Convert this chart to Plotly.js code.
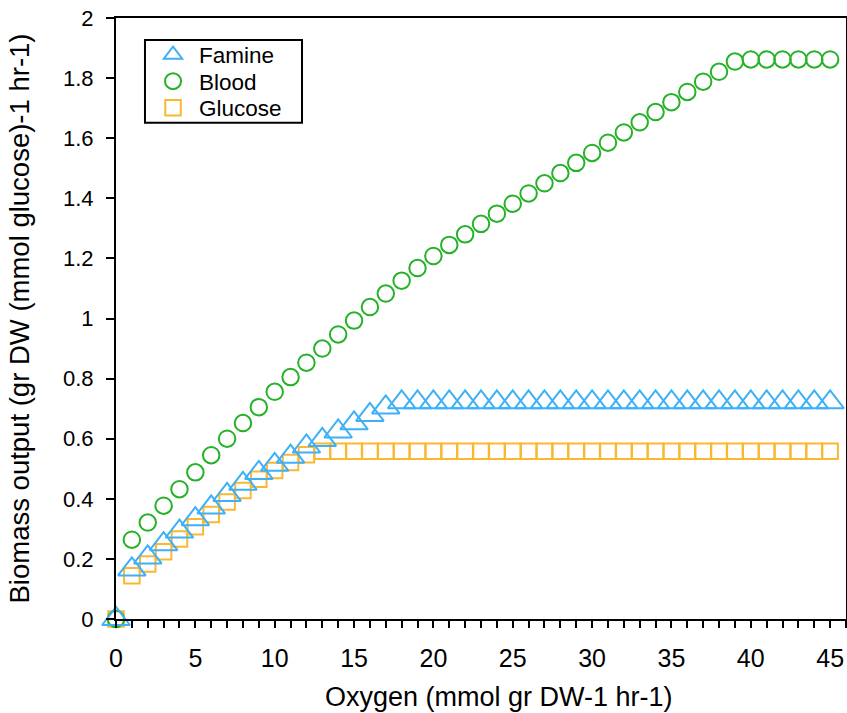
<!DOCTYPE html>
<html>
<head>
<meta charset="utf-8">
<script src="https://cdn.plot.ly/plotly-3.0.1.min.js"></script>
<style>
  html, body { margin: 0; padding: 0; background: #ffffff; }
  #chart { width: 847px; height: 713px; }
</style>
</head>
<body>
<div id="chart"></div>
<script>
// Oxygen uptake (mmol gr DW-1 hr-1)
const oxygen = [0, 1, 2, 3, 4, 5, 6, 7, 8, 9, 10, 11, 12, 13, 14, 15, 16, 17, 18, 19,
  20, 21, 22, 23, 24, 25, 26, 27, 28, 29, 30, 31, 32, 33, 34, 35, 36, 37, 38, 39,
  40, 41, 42, 43, 44, 45];

// Biomass output per condition
const famine = [0, 0.165, 0.205, 0.249, 0.291, 0.332, 0.371, 0.413, 0.450, 0.486,
  0.513, 0.540, 0.574, 0.596, 0.624, 0.651, 0.679, 0.704, 0.721, 0.721,
  0.721, 0.721, 0.721, 0.721, 0.721, 0.721, 0.721, 0.721, 0.721, 0.721,
  0.721, 0.721, 0.721, 0.721, 0.721, 0.721, 0.721, 0.721, 0.721, 0.721,
  0.721, 0.721, 0.721, 0.721, 0.721, 0.721];

const blood = [0, 0.264, 0.321, 0.377, 0.432, 0.488, 0.545, 0.600, 0.652, 0.705,
  0.756, 0.805, 0.853, 0.900, 0.947, 0.993, 1.038, 1.083, 1.126, 1.168,
  1.208, 1.245, 1.280, 1.315, 1.349, 1.382, 1.416, 1.450, 1.484, 1.518,
  1.551, 1.585, 1.619, 1.653, 1.687, 1.720, 1.754, 1.788, 1.821, 1.855,
  1.862, 1.862, 1.862, 1.862, 1.862, 1.862];

const glucose = [0, 0.144, 0.183, 0.224, 0.266, 0.307, 0.348, 0.389, 0.428, 0.465,
  0.494, 0.521, 0.547, 0.558, 0.558, 0.558, 0.558, 0.558, 0.558, 0.558,
  0.558, 0.558, 0.558, 0.558, 0.558, 0.558, 0.558, 0.558, 0.558, 0.558,
  0.558, 0.558, 0.558, 0.558, 0.558, 0.558, 0.558, 0.558, 0.558, 0.558,
  0.558, 0.558, 0.558, 0.558, 0.558, 0.558];

const seriesNames = ['Famine', 'Blood', 'Glucose'];
const xTitle = 'Oxygen (mmol gr DW-1 hr-1)';
const yTitle = 'Biomass output (gr DW (mmol glucose)-1 hr-1)';

const FONT = 'Liberation Sans, Arial, Helvetica, sans-serif';
const COLORS = { famine: '#3eb0f7', blood: '#25b228', glucose: '#fbb732' };

// Glucose drawn first, Famine last so the triangles sit on top.
// Each series has its own legend row so the rows can sit close together
// inside one framed box (drawn as a shape).
const traces = [
  {
    x: oxygen, y: glucose, name: seriesNames[2], type: 'scatter', mode: 'markers',
    cliponaxis: false, legend: 'legend3',
    marker: { symbol: 'square-open', size: 15.5, color: COLORS.glucose, line: { width: 2, color: COLORS.glucose } }
  },
  {
    x: oxygen, y: blood, name: seriesNames[1], type: 'scatter', mode: 'markers',
    cliponaxis: false, legend: 'legend2',
    marker: { symbol: 'circle-open', size: 16.5, color: COLORS.blood, line: { width: 2, color: COLORS.blood } }
  },
  {
    x: oxygen, y: famine, name: seriesNames[0], type: 'scatter', mode: 'markers',
    cliponaxis: false, legend: 'legend',
    marker: { symbol: 'triangle-up-open', size: 24, color: COLORS.famine, line: { width: 2, color: COLORS.famine } }
  }
];

function legendRow(yPos) {
  return {
    x: 0.0425, y: yPos, xanchor: 'left', yanchor: 'middle',
    bgcolor: 'rgba(0,0,0,0)',
    borderwidth: 0,
    font: { family: FONT, size: 22.5, color: '#000000' },
    itemwidth: 42
  };
}

const layout = {
  width: 847,
  height: 713,
  margin: { l: 116, r: 1, t: 18, b: 94 },
  paper_bgcolor: '#ffffff',
  plot_bgcolor: '#ffffff',
  font: { family: FONT, color: '#000000', size: 20 },
  showlegend: true,
  legend: legendRow(0.9384),
  legend2: legendRow(0.8943),
  legend3: legendRow(0.8502),
  shapes: [
    {
      type: 'rect', xref: 'paper', yref: 'paper',
      x0: 0.0397, x1: 0.2548, y0: 0.8258, y1: 0.9634,
      line: { color: '#000000', width: 2 },
      fillcolor: '#ffffff',
      layer: 'above'
    }
  ],
  // x-axis title, centred slightly right of the plot middle
  annotations: [
    {
      text: xTitle, xref: 'paper', yref: 'paper',
      x: 0.5247, y: 0, xanchor: 'center', yanchor: 'middle',
      yshift: -78, showarrow: false,
      font: { family: FONT, size: 27, color: '#000000' }
    }
  ],
  xaxis: {
    range: [0, 46],
    showgrid: false,
    zeroline: false,
    showline: true,
    linecolor: '#000000',
    linewidth: 2,
    mirror: true,
    ticks: 'outside',
    tickmode: 'linear',
    tick0: 0,
    dtick: 5,
    ticklen: 7,
    tickwidth: 2,
    tickcolor: '#000000',
    ticklabelstandoff: 9,
    minor: { ticks: 'outside', dtick: 1, tick0: 0, ticklen: 7, tickwidth: 2, tickcolor: '#000000', showgrid: false },
    tickfont: { family: FONT, size: 25, color: '#000000' }
  },
  yaxis: {
    range: [0, 2],
    showgrid: false,
    zeroline: false,
    showline: true,
    linecolor: '#000000',
    linewidth: 2,
    mirror: true,
    ticks: 'outside',
    tickmode: 'linear',
    tick0: 0,
    dtick: 0.2,
    ticklen: 8,
    tickwidth: 2,
    tickcolor: '#000000',
    ticklabelstandoff: 8,
    tickfont: { family: FONT, size: 22, color: '#000000' },
    title: { text: yTitle, font: { family: FONT, size: 27.5, color: '#000000' }, standoff: 25 }
  }
};

Plotly.newPlot('chart', traces, layout, { displayModeBar: false, staticPlot: true });
</script>
</body>
</html>
